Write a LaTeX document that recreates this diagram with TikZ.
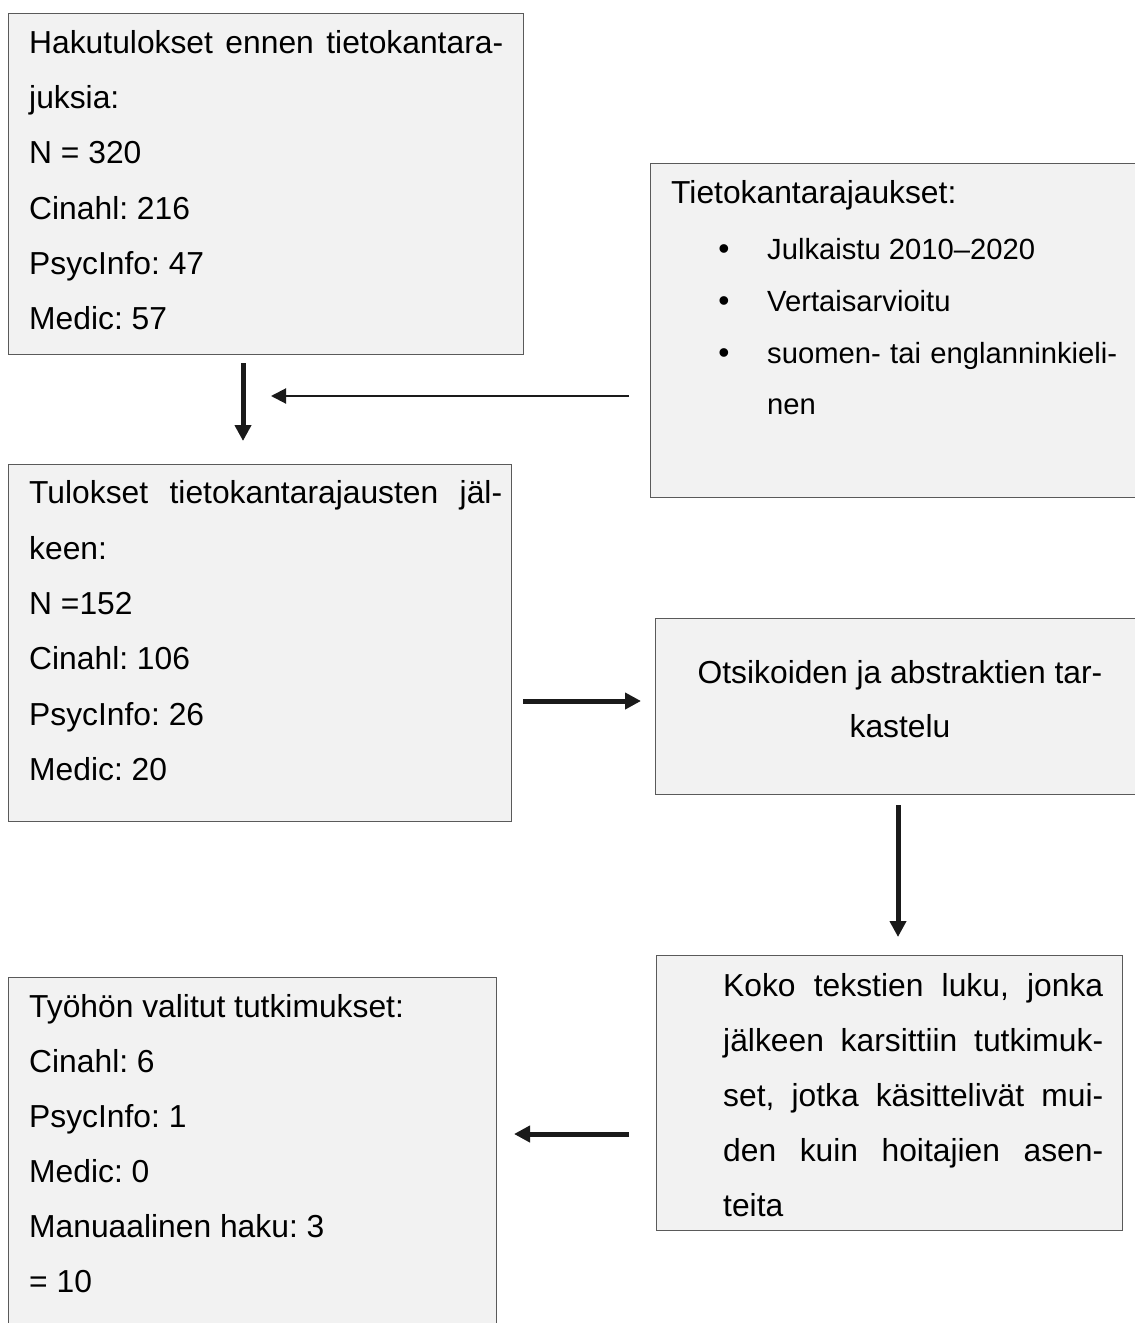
\documentclass[tikz,border=0pt]{standalone}
\usepackage{fontspec}
\setmainfont{Liberation Sans}
\usetikzlibrary{arrows.meta}
\definecolor{boxfill}{HTML}{F2F2F2}
\definecolor{boxline}{HTML}{5A5A5A}
\definecolor{arrcol}{HTML}{1A1A1A}
\newcommand{\justline}[2]{\makebox[#1][s]{#2}}
\frenchspacing
\begin{document}
\begin{tikzpicture}[x=1pt,y=-1pt,
  box/.style={draw=boxline, fill=boxfill, line width=1.4pt, inner sep=0pt, anchor=north west},
  txt/.style={anchor=base west, inner sep=0pt, font=\fontsize{31.8}{38}\selectfont},
  stxt/.style={anchor=base west, inner sep=0pt, font=\fontsize{29.2}{35}\selectfont},
  ctxt/.style={anchor=base, inner sep=0pt, font=\fontsize{31.8}{38}\selectfont},
  bul/.style={anchor=base, inner sep=0pt, font=\fontsize{31.8}{38}\selectfont},
  thickarrow/.style={draw=arrcol, line width=5pt, -{Triangle[length=16pt,width=16pt]}},
  thinarrow/.style={draw=arrcol, line width=2pt, -{Triangle[length=15pt,width=15pt]}}]
\useasboundingbox (0,0) rectangle (1135,1323);

% boxes
\node[box, minimum width=515pt, minimum height=341pt] (b1) at (8,13) {};
\node[box, minimum width=500pt, minimum height=334pt] (tk) at (650,163) {};
\node[box, minimum width=503pt, minimum height=357pt] (b2) at (8,464) {};
\node[box, minimum width=500pt, minimum height=176pt] (b3) at (655,618) {};
\node[box, minimum width=466pt, minimum height=275pt] (b4) at (656,955) {};
\node[box, minimum width=488pt, minimum height=400pt] (b5) at (8,977) {};

% box 1 text
\node[txt] (b1l1) at (29,53) {\justline{474pt}{Hakutulokset ennen tietokantara-}};
\node[txt] (b1l2) at (29,108) {juksia:};
\node[txt] (b1l3) at (29,163) {N = 320};
\node[txt] (b1l4) at (29,219) {Cinahl: 216};
\node[txt] (b1l5) at (29,274) {PsycInfo: 47};
\node[txt] (b1l6) at (29,329) {Medic: 57};

% limits box text
\node[txt] (tkl1) at (671,203) {Tietokantarajaukset:};
\node[bul] (tkb1) at (724,259) {•};
\node[stxt] (tkl2) at (767,259) {Julkaistu 2010–2020};
\node[bul] (tkb2) at (724,311) {•};
\node[stxt] (tkl3) at (767,311) {Vertaisarvioitu};
\node[bul] (tkb3) at (724,363) {•};
\node[stxt] (tkl4) at (767,363) {\justline{350pt}{suomen- tai englanninkieli-}};
\node[stxt] (tkl5) at (767,414) {nen};

% box 2 text
\node[txt] (b2l1) at (29,503) {\justline{473pt}{Tulokset tietokantarajausten jäl-}};
\node[txt] (b2l2) at (29,559) {keen:};
\node[txt] (b2l3) at (29,614) {N =152};
\node[txt] (b2l4) at (29,669) {Cinahl: 106};
\node[txt] (b2l5) at (29,725) {PsycInfo: 26};
\node[txt] (b2l6) at (29,780) {Medic: 20};

% box 3 text
\node[ctxt] (b3l1) at (900,683) {Otsikoiden ja abstraktien tar-};
\node[ctxt] (b3l2) at (900,737) {kastelu};

% box 4 text
\node[txt] (b4l1) at (723,996) {\justline{380pt}{Koko tekstien luku, jonka}};
\node[txt] (b4l2) at (723,1051) {\justline{380pt}{jälkeen karsittiin tutkimuk-}};
\node[txt] (b4l3) at (723,1106) {\justline{380pt}{set, jotka käsittelivät mui-}};
\node[txt] (b4l4) at (723,1161) {\justline{380pt}{den kuin hoitajien asen-}};
\node[txt] (b4l5) at (723,1216) {teita};

% box 5 text
\node[txt] (b5l1) at (29,1017) {Työhön valitut tutkimukset:};
\node[txt] (b5l2) at (29,1072) {Cinahl: 6};
\node[txt] (b5l3) at (29,1127) {PsycInfo: 1};
\node[txt] (b5l4) at (29,1182) {Medic: 0};
\node[txt] (b5l5) at (29,1237) {Manuaalinen haku: 3};
\node[txt] (b5l6) at (29,1292) {= 10};

% arrow end points
\coordinate (a1s) at (243,363);
\coordinate (a1e) at (243,441);
\coordinate (a2s) at (629,396);
\coordinate (a2e) at (271,396);
\coordinate (a3s) at (523,701);
\coordinate (a3e) at (641,701);
\coordinate (a4s) at (898,805);
\coordinate (a4e) at (898,937);
\coordinate (a5s) at (629,1134);
\coordinate (a5e) at (514,1134);

\draw[thickarrow] (a1s) -- (a1e);
\draw[thinarrow] (a2s) -- (a2e);
\draw[thickarrow] (a3s) -- (a3e);
\draw[thickarrow] (a4s) -- (a4e);
\draw[thickarrow] (a5s) -- (a5e);
\end{tikzpicture}
\end{document}
